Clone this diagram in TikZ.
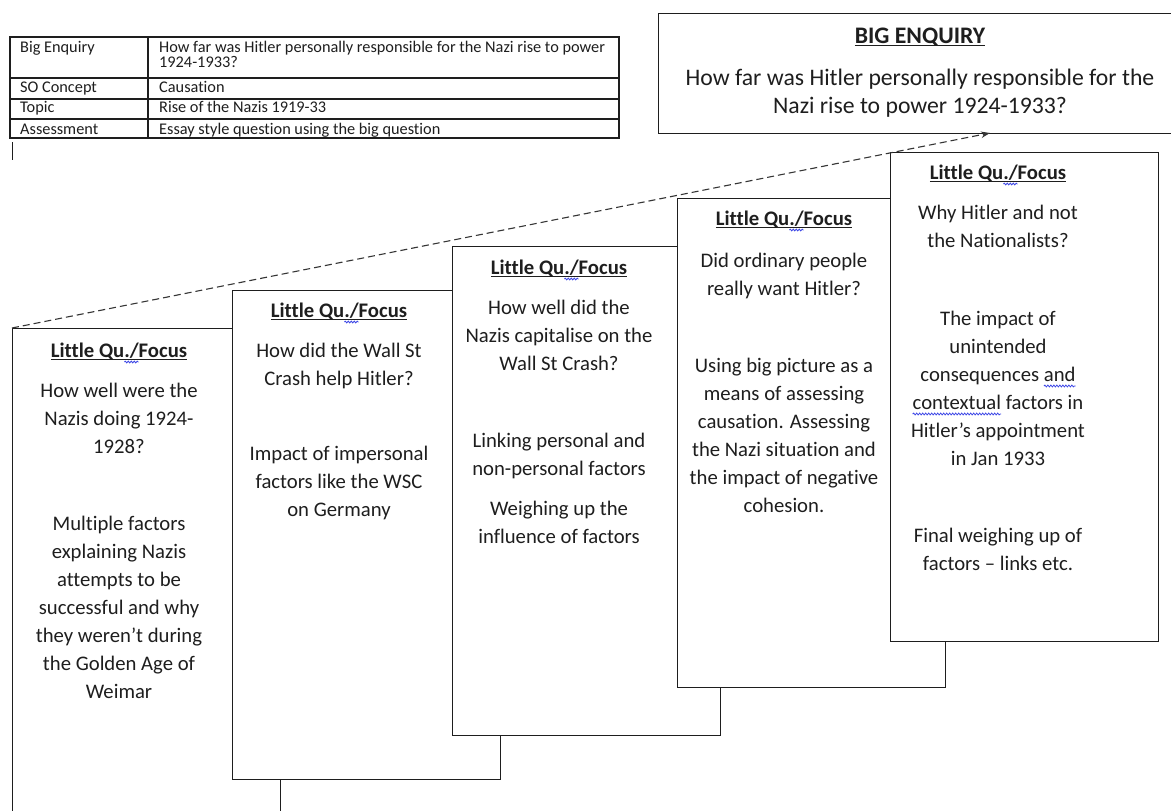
\documentclass[tikz,border=0pt]{standalone}
\usepackage{fontspec}
\setmainfont{Carlito}[Ligatures={NoCommon,NoContextual}]
\usetikzlibrary{arrows.meta,decorations.pathmorphing}
\definecolor{ink}{RGB}{30,30,30}
\definecolor{sqblue}{RGB}{60,70,230}
\tikzset{
  sq/.style={draw=sqblue, line width=0.8pt, decorate, decoration={snake, amplitude=0.9pt, segment length=3pt}},
  box/.style={draw=ink, line width=1.1pt, fill=white, anchor=north west, inner sep=0pt, minimum width=268pt, minimum height=489pt},
  bigbox/.style={draw=ink, line width=1.1pt, fill=white, anchor=north west, inner sep=0pt, minimum width=524pt, minimum height=120pt},
  txt/.style={anchor=north, inner sep=0pt, align=center, text=ink, font=\fontsize{20.7}{28}\selectfont},
  hd/.style={txt, font=\fontsize{20.7}{28}\selectfont\bfseries},
  bigtxt/.style={anchor=north, inner sep=0pt, align=center, text=ink, font=\fontsize{23.7}{28.5}\selectfont},
  tt/.style={anchor=base west, inner sep=0pt, text=ink, font=\fontsize{16.3}{20}\selectfont},
  tline/.style={draw=ink, line width=1.1pt},
  dasharrow/.style={draw=ink!90, line width=1.1pt, dash pattern=on 7pt off 4pt, -{Stealth[length=9pt,width=6.5pt]}}
}
\newcommand\fs{\rule{0pt}{20pt}}
\newcommand\fb{\rule{0pt}{23pt}}
\newcommand\ulx[1]{\setbox0\hbox{#1}\rlap{\rule[-2.6pt]{\wd0}{1.2pt}}\box0\relax}
\newcommand\squig[1]{\setbox2\hbox{#1}\rlap{\tikz[overlay]\draw[sq] (0pt,-4.8pt) -- (\wd2,-4.8pt);}\box2\relax}
\newcommand\lqfocus{\ulx{Little Qu\squig{./}Focus}}
\begin{document}
\begin{tikzpicture}[x=1pt,y=-1pt]
\clip (0,0) rectangle (1171,811);
\fill[white] (0,0) rectangle (1171,811);

% ---------- table ----------
\coordinate (t1) at (10,37);
\coordinate (t2) at (619,138);
\draw[tline] (t1) rectangle (t2);
\draw[tline] (148,37) -- (148,138);
\draw[tline] (10,78) -- (619,78);
\draw[tline] (10,99) -- (619,99);
\draw[tline] (10,119) -- (619,119);
\node[tt] (ta1) at (20,52.5) {Big Enquiry};
\node[tt] (tb1) at (159,52.5) {How far was Hitler personally responsible for the Nazi rise to power};
\node[tt] (tb1b) at (159,67.5) {1924-1933?};
\node[tt] (ta2) at (20,92.5) {SO Concept};
\node[tt] (tb2) at (159,92.5) {Causation};
\node[tt] (ta3) at (20,112.5) {Topic};
\node[tt] (tb3) at (159,112.5) {Rise of the Nazis 1919-33};
\node[tt] (ta4) at (20,134) {Assessment};
\node[tt] (tb4) at (159,134) {Essay style question using the big question};
\draw[draw=ink, line width=1pt] (12,142) -- (12,160);

% ---------- big enquiry ----------
\node[bigbox] (big) at (658,13) {};
\node[bigtxt, font=\fontsize{23.7}{28.5}\selectfont\bfseries] (bigh) at (920,20) {\fb\ulx{BIG ENQUIRY}};
\node[bigtxt] (bigq) at (920,62) {\fb How far was Hitler personally responsible for the\\Nazi rise to power 1924-1933?};

% ---------- box 1 ----------
\node[box, minimum height=500pt] (b1) at (12,328) {};
\node[hd] (h1) at (119,337) {\fs\lqfocus};
\node[txt] (q1) at (119,377) {\fs How well were the\\Nazis doing 1924-\\1928?};
\node[txt] (d1) at (119,510) {\fs Multiple factors\\explaining Nazis\\attempts to be\\successful and why\\they weren’t during\\the Golden Age of\\Weimar};

% ---------- box 2 ----------
\node[box] (b2) at (232,290) {};
\node[hd] (h2) at (339,297) {\fs\lqfocus};
\node[txt] (q2) at (339,337) {\fs How did the Wall St\\Crash help Hitler?};
\node[txt] (d2) at (339,440) {\fs Impact of impersonal\\factors like the WSC\\on Germany};

% ---------- box 3 ----------
\node[box] (b3) at (452,246) {};
\node[hd] (h3) at (559,254) {\fs\lqfocus};
\node[txt] (q3) at (559,294) {\fs How well did the\\Nazis capitalise on the\\Wall St Crash?};
\node[txt] (d3) at (559,427) {\fs Linking personal and\\non-personal factors};
\node[txt] (e3) at (559,495) {\fs Weighing up the\\influence of factors};

% ---------- box 4 ----------
\node[box] (b4) at (677,198) {};
\node[hd] (h4) at (784,205) {\fs\lqfocus};
\node[txt] (q4) at (784,247) {\fs Did ordinary people\\really want Hitler?};
\node[txt] (d4) at (784,352) {\fs Using big picture as a\\means of assessing\\causation. Assessing\\the Nazi situation and\\the impact of negative\\cohesion.};

% ---------- box 5 ----------
\node[box] (b5) at (890,152) {};
\node[hd] (h5) at (998,159) {\fs\lqfocus};
\node[txt] (q5) at (998,199) {\fs Why Hitler and not\\the Nationalists?};
\node[txt] (d5) at (998,305) {\fs The impact of\\unintended\\consequences \squig{and}\\\squig{contextual} factors in\\Hitler’s appointment\\in Jan 1933};
\node[txt] (e5) at (998,522) {\fs Final weighing up of\\factors – links etc.};

% ---------- dashed arrow ----------
\coordinate (tip) at (990,133);
\draw[dasharrow] (b1.north west) -- (tip);
\end{tikzpicture}
\end{document}
